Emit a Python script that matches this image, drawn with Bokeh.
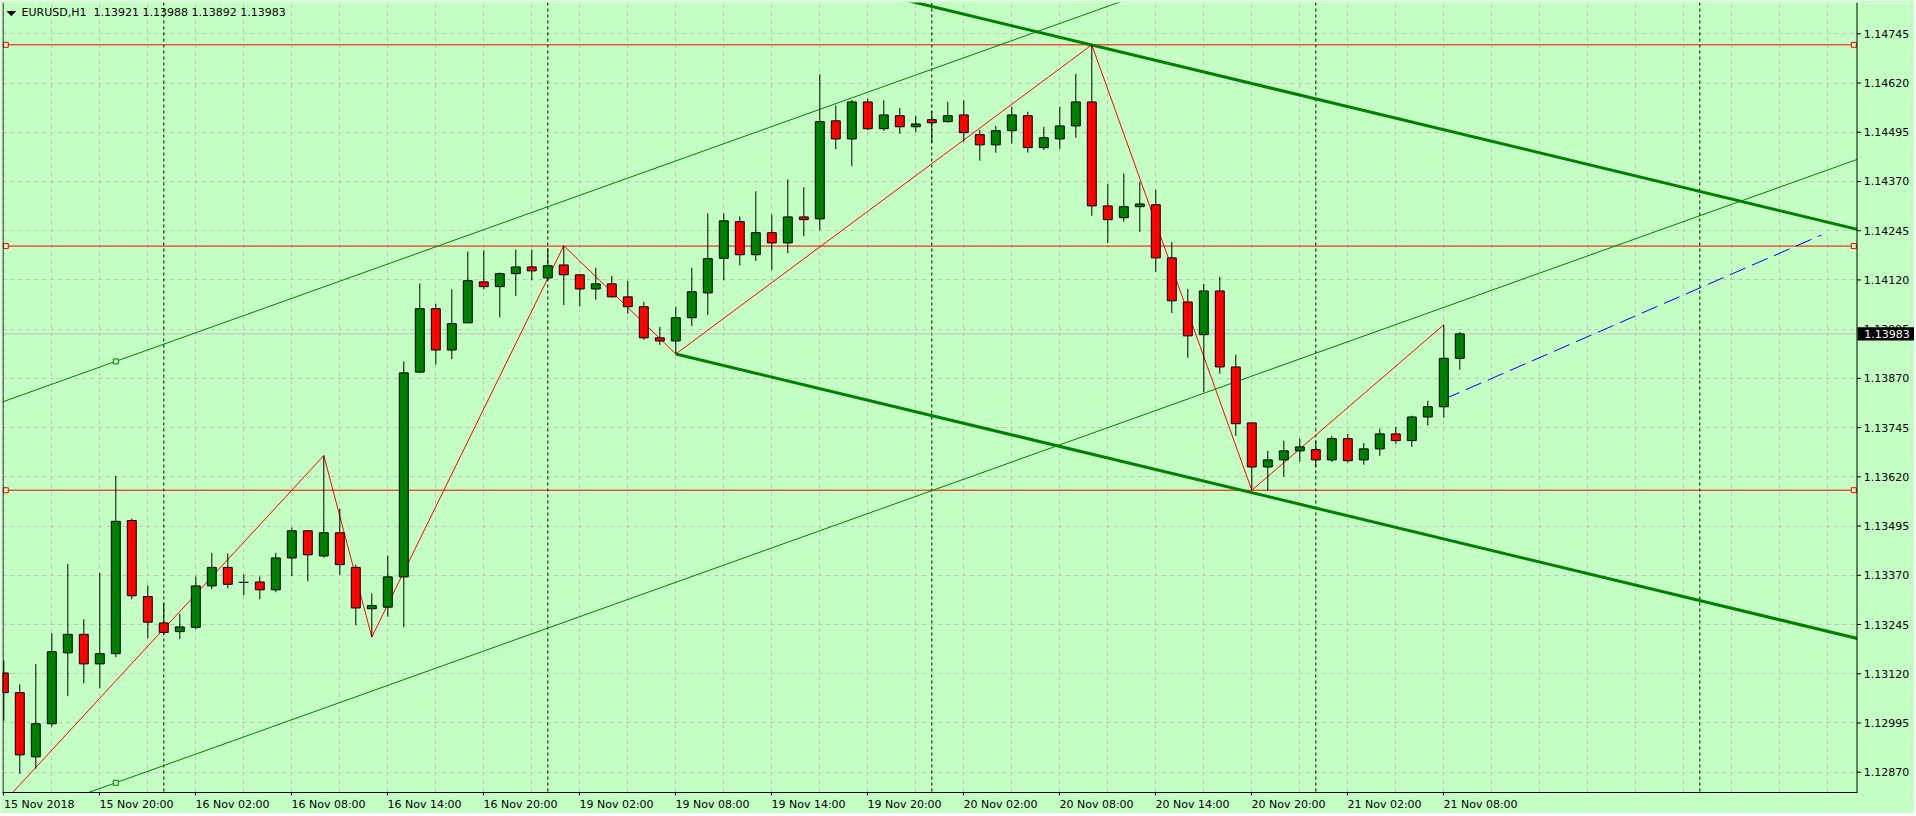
from bokeh.plotting import figure
from bokeh.models import ColumnDataSource, Range1d, FixedTicker, Span, Label
from bokeh.core.properties import value
from bokeh.embed import file_html
from bokeh.resources import INLINE

# ---------------- data ----------------
symbol = "EURUSD,H1"
bar_index = list(range(92))
open_ = [1.13122, 1.13072, 1.12909, 1.12993, 1.13173, 1.13220, 1.13145, 1.13171, 1.13509, 1.13316,
         1.13249, 1.13227, 1.13238, 1.13343, 1.13390, 1.13352, 1.13353, 1.13333, 1.13414, 1.13483,
         1.13419, 1.13478, 1.13390, 1.13285, 1.13289, 1.13366, 1.13886, 1.14047, 1.13942, 1.14011,
         1.14115, 1.14103, 1.14136, 1.14153, 1.14125, 1.14158, 1.14133, 1.14097, 1.14110, 1.14077,
         1.14052, 1.13973, 1.13965, 1.14024, 1.14087, 1.14175, 1.14268, 1.14184, 1.14240, 1.14214,
         1.14280, 1.14275, 1.14524, 1.14478, 1.14572, 1.14504, 1.14537, 1.14509, 1.14527, 1.14522,
         1.14539, 1.14489, 1.14463, 1.14499, 1.14537, 1.14456, 1.14478, 1.14511, 1.14572, 1.14308,
         1.14278, 1.14306, 1.14311, 1.14176, 1.14064, 1.13981, 1.14092, 1.13899, 1.13757, 1.13645,
         1.13663, 1.13686, 1.13689, 1.13663, 1.13717, 1.13663, 1.13691, 1.13729, 1.13712, 1.13772,
         1.13798, 1.13921]
high = [1.13154, 1.13093, 1.13145, 1.13223, 1.13399, 1.13258, 1.13376, 1.13622, 1.13514, 1.13344,
        1.13300, 1.13272, 1.13367, 1.13427, 1.13425, 1.13372, 1.13367, 1.13427, 1.13491, 1.13485,
        1.13674, 1.13539, 1.13397, 1.13324, 1.13420, 1.13913, 1.14111, 1.14059, 1.14096, 1.14192,
        1.14195, 1.14139, 1.14197, 1.14197, 1.14200, 1.14207, 1.14134, 1.14151, 1.14130, 1.14118,
        1.14064, 1.14001, 1.14052, 1.14151, 1.14289, 1.14289, 1.14281, 1.14345, 1.14286, 1.14375,
        1.14355, 1.14642, 1.14563, 1.14577, 1.14581, 1.14576, 1.14557, 1.14537, 1.14549, 1.14572,
        1.14576, 1.14501, 1.14511, 1.14560, 1.14547, 1.14509, 1.14560, 1.14643, 1.14717, 1.14364,
        1.14390, 1.14369, 1.14349, 1.14216, 1.14097, 1.14110, 1.14128, 1.13930, 1.13757, 1.13686,
        1.13712, 1.13717, 1.13712, 1.13724, 1.13729, 1.13706, 1.13742, 1.13747, 1.13775, 1.13813,
        1.14006, 1.13988]
low = [1.13001, 1.12866, 1.12879, 1.12986, 1.13063, 1.13096, 1.13083, 1.13162, 1.13309, 1.13210,
       1.13220, 1.13208, 1.13233, 1.13335, 1.13337, 1.13319, 1.13309, 1.13327, 1.13368, 1.13355,
       1.13415, 1.13371, 1.13243, 1.13213, 1.13265, 1.13238, 1.13883, 1.13905, 1.13919, 1.14011,
       1.14096, 1.14025, 1.14079, 1.14119, 1.14119, 1.14056, 1.14053, 1.14070, 1.14075, 1.14034,
       1.13968, 1.13955, 1.13932, 1.14003, 1.14031, 1.14119, 1.14157, 1.14168, 1.14145, 1.14188,
       1.14231, 1.14246, 1.14452, 1.14409, 1.14500, 1.14499, 1.14491, 1.14496, 1.14468, 1.14519,
       1.14471, 1.14423, 1.14443, 1.14466, 1.14443, 1.14450, 1.14453, 1.14481, 1.14283, 1.14214,
       1.14268, 1.14242, 1.14140, 1.14036, 1.13922, 1.13835, 1.13882, 1.13724, 1.13586, 1.13585,
       1.13620, 1.13658, 1.13645, 1.13658, 1.13656, 1.13651, 1.13673, 1.13704, 1.13696, 1.13750,
       1.13770, 1.13892]
close = [1.13072, 1.12914, 1.12993, 1.13176, 1.13220, 1.13145, 1.13171, 1.13507, 1.13318, 1.13251,
         1.13225, 1.13239, 1.13343, 1.13390, 1.13347, 1.13352, 1.13333, 1.13414, 1.13483, 1.13422,
         1.13478, 1.13397, 1.13287, 1.13293, 1.13366, 1.13884, 1.14047, 1.13942, 1.14009, 1.14118,
         1.14103, 1.14136, 1.14153, 1.14143, 1.14156, 1.14133, 1.14097, 1.14110, 1.14077, 1.14052,
         1.13973, 1.13965, 1.14024, 1.14090, 1.14174, 1.14270, 1.14184, 1.14240, 1.14214, 1.14280,
         1.14273, 1.14522, 1.14478, 1.14572, 1.14504, 1.14539, 1.14509, 1.14516, 1.14519, 1.14537,
         1.14494, 1.14463, 1.14499, 1.14539, 1.14456, 1.14481, 1.14511, 1.14572, 1.14308, 1.14273,
         1.14306, 1.14313, 1.14176, 1.14067, 1.13978, 1.14092, 1.13899, 1.13755, 1.13645, 1.13663,
         1.13686, 1.13696, 1.13663, 1.13717, 1.13661, 1.13691, 1.13729, 1.13712, 1.13772, 1.13798,
         1.13921, 1.13983]

x_tick_bars = [0, 6, 12, 18, 24, 30, 36, 42, 48, 54, 60, 66, 72, 78, 84, 90]
x_tick_labels = ["15 Nov 2018", "15 Nov 20:00", "16 Nov 02:00", "16 Nov 08:00", "16 Nov 14:00",
                 "16 Nov 20:00", "19 Nov 02:00", "19 Nov 08:00", "19 Nov 14:00", "19 Nov 20:00",
                 "20 Nov 02:00", "20 Nov 08:00", "20 Nov 14:00", "20 Nov 20:00", "21 Nov 02:00",
                 "21 Nov 08:00"]
y_ticks = [1.12870, 1.12995, 1.13120, 1.13245, 1.13370, 1.13495, 1.13620, 1.13745,
           1.13870, 1.13995, 1.14120, 1.14245, 1.14370, 1.14495, 1.14620, 1.14745]
day_separator_bars = [10, 34, 58, 82, 106]

zigzag_bars = [-1, 20, 23, 35, 42, 68, 78, 90]
zigzag_prices = [1.12750, 1.13674, 1.13213, 1.14207, 1.13932, 1.14717, 1.13586, 1.14006]
level_prices = [1.14717, 1.14206, 1.13586]
bid_price = 1.13983

rising_bars = [-10, 130]
rising_lower = [1.12596, 1.14632]
rising_upper = [1.13666, 1.15702]
rising_anchor_bar = 7
rising_anchor_prices = [1.12843, 1.13913]

falling_bars = [42, 130]
falling_lower = [1.13932, 1.13071]
falling_upper = [1.14971, 1.14110]

proj_bars = [90, 113.6]
proj_prices = [1.13817, 1.14234]

# ---------------- geometry ----------------
BG = "#c4ffc4"
GRID = "#c0c0c0"
BULL = "#008000"
BEAR = "#ff0000"
FONT = "DejaVu Sans"
FS = "11px"

PPB = 16.0                 # pixels per bar
PPP = 0.000025393          # price per pixel
LEFT, TOP = 2, 2
FW, FH = 1912, 790
X0 = (LEFT - 3.3) / PPB
X1 = X0 + FW / PPB
Y1 = 1.1482956 - PPP * TOP
Y0 = Y1 - PPP * FH


def bx(px):   # page x -> bar coordinate
    return X0 + (px - LEFT) / PPB


def py(px):   # page y -> price coordinate
    return Y1 - (px - TOP) * PPP


AX = bx(1856.5)            # price-scale edge

p = figure(frame_width=FW, frame_height=FH, output_backend="svg", toolbar_location=None,
           x_range=Range1d(X0, X1), y_range=Range1d(Y0, Y1), y_axis_location=None,
           min_border_left=LEFT, min_border_top=TOP, min_border_right=0, min_border_bottom=0,
           background_fill_color=BG, border_fill_color=BG, outline_line_color=None)

# grid
p.xgrid.ticker = FixedTicker(ticks=list(range(0, 120, 3)))
p.ygrid.ticker = FixedTicker(ticks=y_ticks)
for g in (p.xgrid, p.ygrid):
    g.grid_line_color = GRID
    g.grid_line_dash = "4 4"
    g.grid_line_width = 1

# time axis (labels start at their tick, as in the terminal)
xa = p.xaxis[0]
xa.ticker = FixedTicker(ticks=x_tick_bars)
xa.bounds = (X0, AX)
DV = {"0": .636, "1": .636, "2": .636, "3": .636, "4": .636, "5": .636, "6": .636,
      "7": .636, "8": .636, "9": .636, " ": .318, ":": .337, "N": .748, "o": .612, "v": .592}


def left_aligned(s):
    w = sum(DV.get(ch, .6) for ch in s)
    return "\u00a0" * int(round(w / 0.318)) + s


overrides = {b: left_aligned(t) for b, t in zip(x_tick_bars, x_tick_labels)}
# the first label is pushed inside the canvas by the axis itself
overrides[x_tick_bars[0]] = "\u00a0" + x_tick_labels[0]
xa.major_label_overrides = overrides
xa.major_tick_out = 3
xa.major_tick_in = 0
xa.minor_tick_out = 0
xa.minor_tick_in = 0
xa.major_label_standoff = 2
xa.axis_line_color = "black"
xa.major_tick_line_color = "black"
xa.major_label_text_font = FONT
xa.major_label_text_font_size = FS
xa.major_label_text_color = "black"

# day separators, levels, bid line (under the chart)
for b in day_separator_bars:
    p.add_layout(Span(location=b, dimension="height", line_color="black",
                      line_width=1, line_dash="3 3", level="underlay"))
p.add_layout(Span(location=bid_price, dimension="width", line_color="#c0c0c0",
                  line_width=1, level="underlay"))
for lp in level_prices:
    p.add_layout(Span(location=lp, dimension="width", line_color="red",
                      line_width=1, level="underlay"))

# channels
p.line(rising_bars, rising_lower, line_color=BULL, line_width=1)
p.line(rising_bars, rising_upper, line_color=BULL, line_width=1)
p.line(falling_bars, falling_lower, line_color=BULL, line_width=3)
p.line(falling_bars, falling_upper, line_color=BULL, line_width=3)

# projection
p.line(proj_bars, proj_prices, line_color="#0000ff", line_width=1, line_dash="17 7")

# zigzag
p.line(zigzag_bars, zigzag_prices, line_color="red", line_width=1)

# candles
fills = [BULL if c > o else (BEAR if c < o else "black") for o, c in zip(open_, close)]
src = ColumnDataSource(dict(x=bar_index, o=open_, h=high, l=low, c=close,
                            top=[max(o, c) for o, c in zip(open_, close)],
                            bottom=[min(o, c) for o, c in zip(open_, close)],
                            fill=fills))
p.segment(x0="x", y0="h", x1="x", y1="l", source=src, line_color="black", line_width=1)
p.vbar(x="x", width=0.56, top="top", bottom="bottom", source=src,
       fill_color="fill", line_color="black", line_width=1)

# object handles
p.scatter([bx(5.3)] * 3, level_prices, marker="square", size=5,
          fill_color=BG, line_color="red", line_width=1)
p.scatter([bx(1853.3)] * 3, level_prices, marker="square", size=5,
          fill_color=BG, line_color="red", line_width=1)
p.scatter([rising_anchor_bar] * 2, rising_anchor_prices, marker="square", size=5,
          fill_color=BG, line_color=BULL, line_width=1)

# price scale area (right of the chart)
p.quad(left=AX, right=X1 + 1, bottom=Y0 - 0.001, top=Y1 + 0.001,
       fill_color=BG, line_color=None)
p.segment(x0=[AX], y0=[Y0], x1=[AX], y1=[Y1], line_color="black", line_width=1)
p.segment(x0=[bx(2.5)], y0=[Y0], x1=[bx(2.5)], y1=[Y1], line_color="black", line_width=1)
p.segment(x0=[AX] * len(y_ticks), y0=y_ticks, x1=[bx(1860.5)] * len(y_ticks), y1=y_ticks,
          line_color="black", line_width=1)
p.text(x=[bx(1863.3)] * len(y_ticks), y=y_ticks, text=["%.5f" % t for t in y_ticks],
       text_font=value(FONT), text_font_size=FS, text_color="black",
       text_baseline="middle", text_align="left")

# current price box
p.quad(left=[bx(1857)], right=[bx(1913.5)], bottom=[bid_price - 6.6 * PPP],
       top=[bid_price + 6.6 * PPP], fill_color="black", line_color=None)
p.text(x=[bx(1863.8)], y=[bid_price], text=["%.5f" % bid_price],
       text_font=value(FONT), text_font_size=FS, text_color="white",
       text_baseline="middle", text_align="left")

# title
p.patch([bx(6.7), bx(15.0), bx(10.85)], [py(11.0), py(11.0), py(15.2)],
        fill_color="black", line_color="black", line_width=1)
title = "%s\u00a0\u00a0%.5f %.5f %.5f %.5f" % (symbol, open_[-1], high[-1], low[-1], close[-1])
p.add_layout(Label(x=bx(21), y=Y1, y_offset=-3, text=title,
                   text_font=FONT, text_font_size=FS, text_color="black",
                   text_baseline="top", text_align="left"))

open("out.html", "w").write(file_html(p, INLINE))
